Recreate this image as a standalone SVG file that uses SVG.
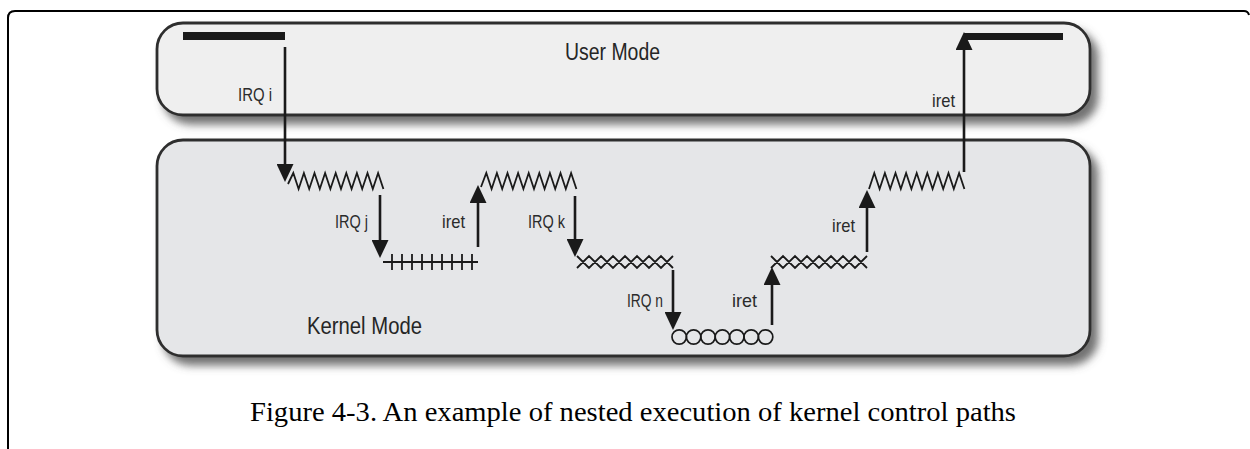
<svg xmlns="http://www.w3.org/2000/svg" width="1250" height="449" viewBox="0 0 1250 449">
<style>
.box{stroke:#2e2e2e;stroke-width:2.8}
.lbl{font-family:"Liberation Sans",Arial,sans-serif;font-size:19px;fill:#2b2b2b}
.mode{font-family:"Liberation Sans",Arial,sans-serif;font-size:23px;fill:#262626}
.seg{fill:none;stroke:#1a1a1a;stroke-width:1.8}
.arrow{fill:none;stroke:#1a1a1a;stroke-width:2.6;marker-end:url(#ah)}
.bar{fill:#1a1a1a}
.cap{font-family:"Liberation Serif","Times New Roman",serif;font-size:28px;fill:#000}
</style>
<defs>
<marker id="ah" markerUnits="userSpaceOnUse" markerWidth="18" markerHeight="17" viewBox="0 0 18 17" refX="6" refY="8.5" orient="auto">
<path d="M0,0 L18,8.5 L0,17 z" fill="#1a1a1a"/>
</marker>
<filter id="sh" x="-5%" y="-20%" width="115%" height="150%">
<feDropShadow dx="7" dy="8" stdDeviation="4" flood-color="#5a5a5a" flood-opacity="0.85"/>
</filter>
</defs>
<rect width="1250" height="449" fill="#fff"/>
<path id="frame" d="M8,449 V18 Q8,11 15,11 H1244 Q1248,11 1249,15" fill="none" stroke="#000" stroke-width="2"/>
<g id="user-mode">
<rect class="box" x="157" y="23" width="933" height="92" rx="26" fill="#efefef" filter="url(#sh)"/>
<text class="mode" x="565" y="60" textLength="95" lengthAdjust="spacingAndGlyphs">User Mode</text>
</g>
<g id="kernel-mode">
<rect class="box" x="157" y="140" width="933" height="216" rx="26" fill="#e5e6e8" filter="url(#sh)"/>
<text class="mode" x="307" y="334" textLength="115" lengthAdjust="spacingAndGlyphs">Kernel Mode</text>
</g>
<g id="user-path-start"><rect class="bar" x="183" y="32" width="102" height="8"/></g>
<g id="user-path-end"><rect class="bar" x="964" y="33" width="99" height="7"/></g>
<g id="path-i-1"><path class="seg" d="M288,184 l5.3,-11 l5.3,16 l5.3,-16 l5.3,16 l5.3,-16 l5.3,16 l5.3,-16 l5.3,16 l5.3,-16 l5.3,16 l5.3,-16 l5.3,16 l5.3,-16 l5.3,16 l5.3,-16 l5.3,16 l5.3,-16 l5.3,16"/></g>
<g id="path-j"><path class="seg" d="M383,262 H478 M392,254 v16 M402,254 v16 M412,254 v16 M422,254 v16 M432,254 v16 M442,254 v16 M452,254 v16 M462,254 v16 M472,254 v16"/></g>
<g id="path-i-2"><path class="seg" d="M481,187 l5.3,-14 l5.3,16 l5.3,-16 l5.3,16 l5.3,-16 l5.3,16 l5.3,-16 l5.3,16 l5.3,-16 l5.3,16 l5.3,-16 l5.3,16 l5.3,-16 l5.3,16 l5.3,-16 l5.3,16 l5.3,-16 l5.3,16"/></g>
<g id="path-k-1"><path class="seg" d="M577,256 l12,12 l12,-12 l12,12 l12,-12 l12,12 l12,-12 l12,12 l12,-12 M577,268 l12,-12 l12,12 l12,-12 l12,12 l12,-12 l12,12 l12,-12 l12,12"/></g>
<g id="path-n" fill="none" stroke="#1a1a1a" stroke-width="1.7">
<circle cx="679.2" cy="337" r="7.2"/><circle cx="693.6" cy="337" r="7.2"/><circle cx="708" cy="337" r="7.2"/><circle cx="722.4" cy="337" r="7.2"/><circle cx="736.8" cy="337" r="7.2"/><circle cx="751.2" cy="337" r="7.2"/><circle cx="765.6" cy="337" r="7.2"/>
</g>
<g id="path-k-2"><path class="seg" d="M771,256 l12,12 l12,-12 l12,12 l12,-12 l12,12 l12,-12 l12,12 l12,-12 M771,268 l12,-12 l12,12 l12,-12 l12,12 l12,-12 l12,12 l12,-12 l12,12"/></g>
<g id="path-i-3"><path class="seg" d="M869,189 l5.3,-16 l5.3,16 l5.3,-16 l5.3,16 l5.3,-16 l5.3,16 l5.3,-16 l5.3,16 l5.3,-16 l5.3,16 l5.3,-16 l5.3,16 l5.3,-16 l5.3,16 l5.3,-16 l5.3,16 l5.3,-16 l5.3,16"/></g>
<g id="connectors">
<path class="arrow" d="M285,47 V170"/>
<path class="arrow" d="M380,195 V246"/>
<path class="arrow" d="M478,247 V197"/>
<path class="arrow" d="M575,196 V245"/>
<path class="arrow" d="M673,270 V318"/>
<path class="arrow" d="M772,325 V279"/>
<path class="arrow" d="M867,252 V202"/>
<path class="arrow" d="M964,172 V44"/>
<text class="lbl" x="238" y="101" textLength="34" lengthAdjust="spacingAndGlyphs">IRQ i</text>
<text class="lbl" x="335" y="228" textLength="33" lengthAdjust="spacingAndGlyphs">IRQ j</text>
<text class="lbl" x="442" y="228" textLength="23" lengthAdjust="spacingAndGlyphs">iret</text>
<text class="lbl" x="528" y="228" textLength="37" lengthAdjust="spacingAndGlyphs">IRQ k</text>
<text class="lbl" x="627" y="307" textLength="36" lengthAdjust="spacingAndGlyphs">IRQ n</text>
<text class="lbl" x="732" y="307" textLength="25" lengthAdjust="spacingAndGlyphs">iret</text>
<text class="lbl" x="832" y="232" textLength="23" lengthAdjust="spacingAndGlyphs">iret</text>
<text class="lbl" x="932" y="107" textLength="23" lengthAdjust="spacingAndGlyphs">iret</text>
</g>
<text class="cap" x="250" y="421" textLength="766" lengthAdjust="spacingAndGlyphs">Figure 4-3. An example of nested execution of kernel control paths</text>
</svg>
